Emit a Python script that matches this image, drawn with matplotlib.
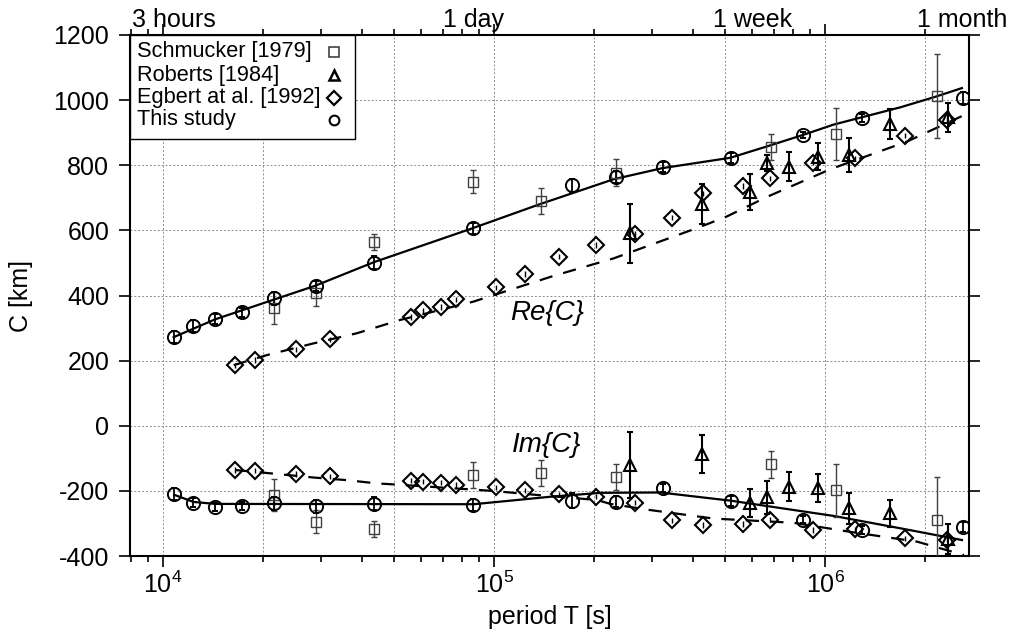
import matplotlib
matplotlib.use("Agg")
import matplotlib.pyplot as plt
from matplotlib.patches import Rectangle
from matplotlib.ticker import FixedLocator, FixedFormatter, LogLocator, NullFormatter

plt.rcParams['font.family'] = ['Liberation Sans', 'DejaVu Sans']
plt.rcParams['mathtext.fontset'] = 'custom'
plt.rcParams['mathtext.rm'] = 'Liberation Sans'
plt.rcParams['mathtext.it'] = 'Liberation Sans:italic'
plt.rcParams['axes.unicode_minus'] = False

# ---------------- data ----------------
# This study (circles)
T_this = [10800, 12350, 14400, 17300, 21600, 28900, 43300, 86200, 172000, 234000,
          323000, 518000, 855000, 1295000, 2605000]
re_this = [273, 306, 327, 348, 391, 429, 501, 606, 739, 765, 794, 822, 893, 944, 1006]
re_this_err = [18, 18, 15, 15, 20, 15, 20, 18, 20, 18, 15, 15, 10, 12, 18]
im_this = [-210, -236, -249, -247, -238, -247, -240, -244, -230, -233, -192, -230,
           -288, -320, -310]
im_this_err = [18, 15, 12, 12, 20, 20, 20, 18, 22, 18, 12, 15, 10, 12, 15]

# Schmucker [1979] (squares)
T_sch = [21600, 28900, 43500, 86200, 138300, 233300, 687000, 1081000, 2170000]
re_sch = [361, 407, 565, 750, 691, 777, 857, 896, 1013]
re_sch_err = [50, 40, 25, 35, 40, 42, 40, 80, 130]
im_sch = [-213, -295, -318, -151, -146, -157, -118, -198, -290]
im_sch_err = [50, 35, 25, 40, 40, 41, 41, 82, 133]

# Roberts [1984] (triangles)
T_rob = [258000, 425000, 594000, 668000, 778000, 951000, 1182000, 1574000, 2348000]
re_rob = [591, 681, 719, 806, 796, 826, 832, 927, 947]
re_rob_err = [90, 60, 55, 25, 45, 42, 53, 45, 45]
im_rob = [-121, -87, -238, -220, -187, -192, -254, -269, -349]
im_rob_err = [102, 59, 43, 50, 45, 43, 48, 42, 46]

# Egbert et al. [1992] (diamonds)
T_egb = [16450, 19000, 25200, 32000, 56200, 61100, 69300, 76900, 101600, 123600,
         157200, 203500, 265600, 345000, 427000, 564000, 680000, 919000, 1230000,
         1743000, 2340000]
re_egb = [186, 202, 235, 265, 334, 354, 365, 388, 425, 466, 519, 555, 589, 639, 714,
          736, 760, 808, 821, 891, 939]
im_egb = [-136, -138, -148, -155, -169, -172, -175, -182, -189, -198, -210, -218,
          -236, -290, -305, -302, -288, -320, -318, -346, -350]
egb_err = [8] * 21

# model curves
T_fit_re = [10770, 14390, 21570, 28840, 43250, 85800, 138000, 229700, 321900,
            517600, 668000, 857000, 1062000, 1287000, 1689000, 2163000, 2590000]
fit_re = [272, 327, 387, 430, 502, 606, 681, 757, 791, 823, 858, 893, 925, 947,
          978, 1011, 1037]
T_fit_im = [10810, 12370, 14390, 86700, 104600, 148000, 209800, 318000, 517600,
            1062000, 1689000, 2590000]
fit_im = [-212, -234, -240, -241, -233, -218, -206, -205, -230, -277, -315, -351]

T_egbfit_re = [16350, 20600, 28500, 38500, 52100, 86500, 151000, 229700, 420000,
               505500, 668000, 1038000, 1770000, 2590000]
egbfit_re = [186, 217, 253, 284, 325, 381, 460, 514, 611, 643, 703, 788, 873, 951]
T_egbfit_im = [16540, 20100, 28500, 35900, 44200, 53300, 99000, 126000, 204700, 224500,
               296800, 460000, 803000, 1193000, 1897000, 2625000]
egbfit_im = [-136, -144, -159, -167, -177, -182, -200, -210, -228, -240, -259, -285,
             -298, -326, -356, -397]

top_T = [10800, 86400, 604800, 2592000]
top_labels = ['3 hours', '1 day', '1 week', '1 month']
grid_T = [1e4, 2e4, 5e4, 1e5, 2e5, 5e5, 1e6, 2e6]
yticks = [-400, -200, 0, 200, 400, 600, 800, 1000, 1200]
legend_labels = ['Schmucker [1979]', 'Roberts [1984]', 'Egbert at al. [1992]', 'This study']

# ---------------- figure ----------------
W, H = 1010, 638
L, R, TOP, BOT = 130, 969, 35, 556
fig = plt.figure(figsize=(W / 100, H / 100), dpi=100)
ax = fig.add_axes([L / W, 1 - BOT / H, (R - L) / W, (BOT - TOP) / H])
ax.set_xscale('log')
ax.set_xlim(7950, 2.72e6)
ax.set_ylim(-400, 1200)

gridkw = dict(color='0.55', lw=0.7, ls=(0, (2, 2)), zorder=0)
for g in grid_T:
    ax.axvline(g, **gridkw)
for yv in yticks:
    ax.axhline(yv, **gridkw)

# curves
ax.plot(T_fit_re, fit_re, color='k', lw=1.6, zorder=2)
ax.plot(T_fit_im, fit_im, color='k', lw=1.6, zorder=2)
ax.plot(T_egbfit_re, egbfit_re, color='k', lw=1.6, ls=(0, (6, 5)), zorder=2)
ax.plot(T_egbfit_im, egbfit_im, color='k', lw=1.6, ls=(0, (6, 5)), zorder=2)

def ebar(T, y, e, marker, ms, mew, color, elw, cap):
    ax.errorbar(T, y, yerr=e, fmt=marker, ms=ms, mfc='none', mec=color, mew=mew,
                ecolor=color, elinewidth=elw, capsize=cap, capthick=elw, zorder=3)

ebar(T_sch, re_sch, re_sch_err, 's', 7, 1.0, '0.25', 1.0, 2.5)
ebar(T_sch, im_sch, im_sch_err, 's', 7, 1.0, '0.25', 1.0, 2.5)
ebar(T_rob, re_rob, re_rob_err, '^', 9, 1.5, 'k', 1.5, 2.5)
ebar(T_rob, im_rob, im_rob_err, '^', 9, 1.5, 'k', 1.5, 2.5)
ebar(T_egb, re_egb, egb_err, 'D', 8.5, 1.5, 'k', 1.0, 0)
ebar(T_egb, im_egb, egb_err, 'D', 8.5, 1.5, 'k', 1.0, 0)
ebar(T_this, re_this, re_this_err, 'o', 9.5, 1.4, 'k', 1.3, 2.5)
ebar(T_this, im_this, im_this_err, 'o', 9.5, 1.4, 'k', 1.3, 2.5)

# text labels
ax.text(144900, 346, 'Re{C}', fontsize=20, style='italic', ha='center', va='center')
ax.text(143900, -59, 'Im{C}', fontsize=20, style='italic', ha='center', va='center')

# ticks
ax.xaxis.set_major_locator(FixedLocator([1e4, 1e5, 1e6]))
ax.xaxis.set_major_formatter(FixedFormatter([r'$\mathregular{10^{4}}$',
                                             r'$\mathregular{10^{5}}$',
                                             r'$\mathregular{10^{6}}$']))
ax.xaxis.set_minor_locator(LogLocator(base=10, subs=[2, 3, 4, 5, 6, 7, 8, 9], numticks=20))
ax.xaxis.set_minor_formatter(NullFormatter())
ax.set_yticks(yticks)
ax.set_yticklabels([str(v) for v in yticks])
ax.tick_params(which='both', direction='out', top=True, right=True, labelsize=18,
               width=1.2, colors='k')
ax.tick_params(which='major', length=8)
ax.tick_params(which='minor', length=4)
ax.tick_params(axis='x', which='major', pad=3.5)
ax.tick_params(axis='y', which='major', pad=7)
for s in ax.spines.values():
    s.set_linewidth(1.5)

for T, lab in zip(top_T, top_labels):
    ax.annotate(lab, xy=(T, 1), xycoords=('data', 'axes fraction'), xytext=(0, 6),
                textcoords='offset points', ha='center', va='baseline', fontsize=18,
                annotation_clip=False)

ax.set_xlabel('period T [s]', fontsize=18)
ax.xaxis.set_label_coords(0.5, -0.094)
ax.set_ylabel('C [km]', fontsize=18)
ax.yaxis.set_label_coords(-0.116, 0.5)

# legend box (drawn in axes coordinates)
def axx(px):
    return (px - L) / (R - L)

def axy(py):
    return (BOT - py) / (BOT - TOP)

ax.add_patch(Rectangle((0, axy(139)), axx(355), 1 - axy(139), transform=ax.transAxes,
                       facecolor='white', edgecolor='k', lw=1.0, zorder=6,
                       clip_on=False))
row_y = [52, 75, 98, 120]
leg_styles = [dict(marker='s', ms=7, mec='0.2', mew=1.1),
              dict(marker='^', ms=7.5, mec='k', mew=1.8),
              dict(marker='D', ms=7, mec='k', mew=1.6),
              dict(marker='o', ms=7, mec='k', mew=1.5)]
for lab, py, st in zip(legend_labels, row_y, leg_styles):
    ax.text(axx(137), axy(py), lab, transform=ax.transAxes, fontsize=15.7,
            ha='left', va='center', zorder=7)
    ax.plot([axx(334)], [axy(py)], transform=ax.transAxes, ls='none', mfc='none',
            zorder=7, clip_on=False, **st)

fig.savefig('out.png', dpi=100)
